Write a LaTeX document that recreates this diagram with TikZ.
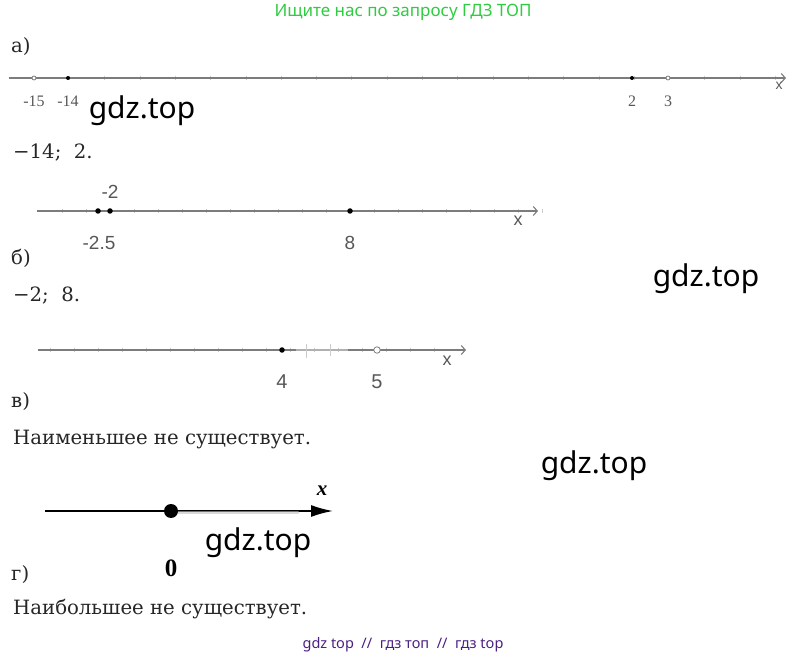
\documentclass[tikz,border=0pt]{standalone}
\usepackage{fontspec}
\setmainfont{DejaVu Serif}
\newfontfamily\wmfont{Noto Sans}
\newfontfamily\gfont{Liberation Sans}
\newfontfamily\nfont{Liberation Serif}
\usetikzlibrary{arrows.meta}
\definecolor{ggreen}{HTML}{2ECC40}
\definecolor{gpurple}{HTML}{4B1F80}
\definecolor{axis}{HTML}{7C7C7C}
\newcommand{\fs}[1]{\fontsize{#1}{#1}\selectfont}

\begin{document}
\begin{tikzpicture}[x=1pt,y=-1pt,
  txt/.style={anchor=west,inner sep=0,font=\fs{19.7},text=black!85},
  num/.style={inner sep=0,text=axis!70!black},
  dotf/.style={circle,fill=black,inner sep=0,minimum size=4.5pt},
  doto/.style={circle,draw=axis,fill=white,line width=.8pt,inner sep=0,minimum size=5pt},
  wmark/.style={inner sep=0,font=\wmfont\fs{30}},
  ax/.style={draw=axis,line width=1.1pt,-{Straight Barb[length=4pt,width=9pt]}},
  tk/.style={draw=axis!40,line width=.5pt}]
\useasboundingbox (0,0) rectangle (806,660);

% header / footer
\node[inner sep=0,text=ggreen,font=\wmfont\fs{17}] (head) at (403,12) {Ищите нас по запросу ГДЗ ТОП};
\node[inner sep=0,text=gpurple,font=\wmfont\fs{14.5}] (foot) at (403,645) {gdz top \ // \ гдз топ \ // \ гдз top};

% a)
\node[txt] (la) at (11,47) {а)};
\coordinate (a0) at (9,78);
\coordinate (a1) at (786,78);
\foreach \i in {0,...,21} {\draw[tk] (34+35.3*\i,76) -- (34+35.3*\i,80);}
\draw[ax] (a0) -- (a1);
\foreach \n/\px/\s in {p15/34/doto, p14/68/dotf, p2/632/dotf, p3/668/doto}
  {\node[\s,minimum size=4pt] (\n) at (\px,78) {};}
\foreach \n/\px/\t in {p15/34/-15, p14/68/-14, p2/632/2, p3/668/3}
  {\node[num,font=\nfont\fs{16}] at (\px,101) {\t};}
\node[num,font=\gfont\fs{14}] (xa) at (779,86) {x};
\node[wmark] (w1) at (142,111) {gdz.top};
\node[txt] (ra) at (13,153) {−14;\ \ 2.};

% b)
\coordinate (b0) at (37,211);
\coordinate (b1) at (538,211);
\foreach \i in {0,...,20} {\draw[tk] (62+24*\i,209) -- (62+24*\i,213);}
\draw[ax] (b0) -- (b1);
\foreach \n/\px in {q25/98, q2/110, q8/350} {\node[dotf,minimum size=5.5pt] (\n) at (\px,211) {};}
\node[num,font=\gfont\fs{19}] at (110,192) {-2};
\node[num,font=\gfont\fs{19}] at (99,243) {-2.5};
\node[num,font=\gfont\fs{19}] at (350,243) {8};
\node[num,font=\gfont\fs{18}] (xb) at (518,221) {x};
\node[txt] (lb) at (11,258) {б)};
\node[wmark] (w2) at (706,279) {gdz.top};
\node[txt] (rb) at (13,296) {−2;\ \ 8.};

% c)
\coordinate (c0) at (38,350);
\coordinate (c1) at (466,350);
\foreach \i in {0,...,16} {\draw[tk] (50+24*\i,348) -- (50+24*\i,352);}
\draw[ax] (c0) -- (c1);
\draw[axis!60,line width=1.6pt] (296,350) -- (348,350);
\draw[axis!40] (306,344) -- (306,358) (330,344) -- (330,356);
\node[dotf,minimum size=5.5pt] (r4) at (282,350) {};
\node[doto,minimum size=6.5pt] (r5) at (377,350) {};
\node[num,font=\gfont\fs{20}] at (282,382) {4};
\node[num,font=\gfont\fs{20}] at (377,382) {5};
\node[num,font=\gfont\fs{18}] (xc) at (447,361) {x};
\node[txt] (lc) at (11,402) {в)};
\node[txt] (rc) at (13,440) {Наименьшее не существует.};
\node[wmark] (w3) at (594,466) {gdz.top};

% d)
\coordinate (d0) at (45,511);
\coordinate (d1) at (333,511);
\draw[line width=1.8pt,-{Latex[length=22pt,width=12pt]}] (d0) -- (d1);
\draw[black!25,line width=3pt,line cap=round,opacity=.6] (178,512) -- (298,512);
\node[circle,fill=black,inner sep=0,minimum size=14pt] (s0) at (171,511) {};
\node[inner sep=0,font=\nfont\bfseries\itshape\fs{21}] (xd) at (322,491) {x};
\node[inner sep=0,font=\nfont\bfseries\fs{25}] (z0) at (171,568) {0};
\node[wmark] (w4) at (258,543) {gdz.top};
\node[txt] (ld) at (11,575) {г)};
\node[txt] (rd) at (13,609) {Наибольшее не существует.};
\end{tikzpicture}
\end{document}
